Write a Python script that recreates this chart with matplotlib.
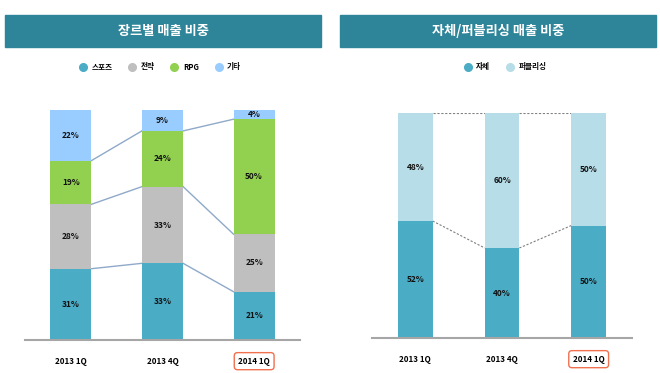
import numpy as np
import matplotlib.pyplot as plt
from matplotlib.lines import Line2D
from matplotlib.patches import Rectangle

plt.rcParams['font.family'] = ['Noto Sans CJK KR', 'DejaVu Sans']

quarters = ['2013 1Q', '2013 4Q', '2014 1Q']

genres = ['스포츠', '전략', 'RPG', '기타']
genre_values = [
    [31, 33, 21],  # 스포츠
    [28, 33, 25],  # 전략
    [19, 24, 50],  # RPG
    [22, 9, 4],    # 기타
]
genre_colors = ['#4bacc6', '#bfbfbf', '#92d050', '#99ccff']

pub_types = ['자체', '퍼블리싱']
pub_values = [
    [52, 40, 50],  # 자체
    [48, 60, 50],  # 퍼블리싱
]
pub_colors = ['#4bacc6', '#b7dde8']

W, H = 660, 373
fig = plt.figure(figsize=(W / 100, H / 100), dpi=100)


def px_axes(x0, x1, ytop, ybot):
    return fig.add_axes([x0 / W, (H - ybot) / H, (x1 - x0) / W, (ybot - ytop) / H])


def banner(x0, x1, text):
    fig.patches.append(Rectangle((x0 / W, 1 - 47 / H), (x1 - x0) / W, 32 / H,
                                 transform=fig.transFigure, color='#2e8599', zorder=0))
    fig.text((x0 + x1) / 2 / W, 1 - 31 / H, text, color='white', fontsize=9.5,
             fontweight='bold', ha='center', va='center')


def stacked(ax, values, colors, width, line_kw, top_line):
    vals = np.array(values, dtype=float)
    vals = vals / vals.sum(axis=0) * 100
    x = np.arange(vals.shape[1])
    bottom = np.zeros(vals.shape[1])
    bounds = []
    for k in range(vals.shape[0]):
        ax.bar(x, vals[k], width, bottom=bottom, color=colors[k], zorder=2)
        for i in range(len(x)):
            ax.text(x[i], bottom[i] + vals[k][i] / 2, f'{values[k][i]}%', ha='center',
                    va='center', fontsize=6, fontweight='bold', color='#111111', zorder=3)
        bottom = bottom + vals[k]
        bounds.append(bottom.copy())
    if not top_line:
        bounds = bounds[:-1]
    for b in bounds:
        for i in range(len(x) - 1):
            ax.plot([x[i] + width / 2, x[i + 1] - width / 2], [b[i], b[i + 1]], zorder=1, **line_kw)
    ax.set_xlim(-0.5, 2.5)
    ax.set_ylim(0, 100)
    ax.set_xticks(x)
    ax.set_xticklabels(quarters, fontsize=5.8, fontweight='bold')
    ax.tick_params(axis='x', length=0, pad=12)
    ax.set_yticks([])
    for s in ['top', 'left', 'right']:
        ax.spines[s].set_visible(False)
    ax.spines['bottom'].set_color('#a6a6a6')
    ax.spines['bottom'].set_linewidth(1.5)
    lab = ax.get_xticklabels()[-1]
    lab.set_bbox(dict(boxstyle='round,pad=0.5,rounding_size=0.4', fc='white', ec='#f07050', lw=1))


def legend(names, colors, cx):
    handles = [Line2D([], [], marker='o', ls='', markersize=5.5, color=c) for c in colors]
    fig.legend(handles, names, loc='center', bbox_to_anchor=(cx / W, 1 - 67 / H), ncol=len(names),
               frameon=False, prop={'size': 5.5, 'weight': 'bold'}, handletextpad=0.6,
               columnspacing=2.1, handlelength=1.0)


banner(5, 321, '장르별 매출 비중')
banner(340, 656, '자체/퍼블리싱 매출 비중')
legend(genres, genre_colors, 160)
legend(pub_types, pub_colors, 505)

ax1 = px_axes(25, 300, 110, 340)
stacked(ax1, genre_values, genre_colors, 0.45, dict(color='#8fa9c8', lw=1), False)

ax2 = px_axes(372, 632, 113, 338)
stacked(ax2, pub_values, pub_colors, 0.40, dict(color='#808080', lw=0.8, ls=(0, (2, 1.5))), True)

fig.savefig('out.png', dpi=100)
